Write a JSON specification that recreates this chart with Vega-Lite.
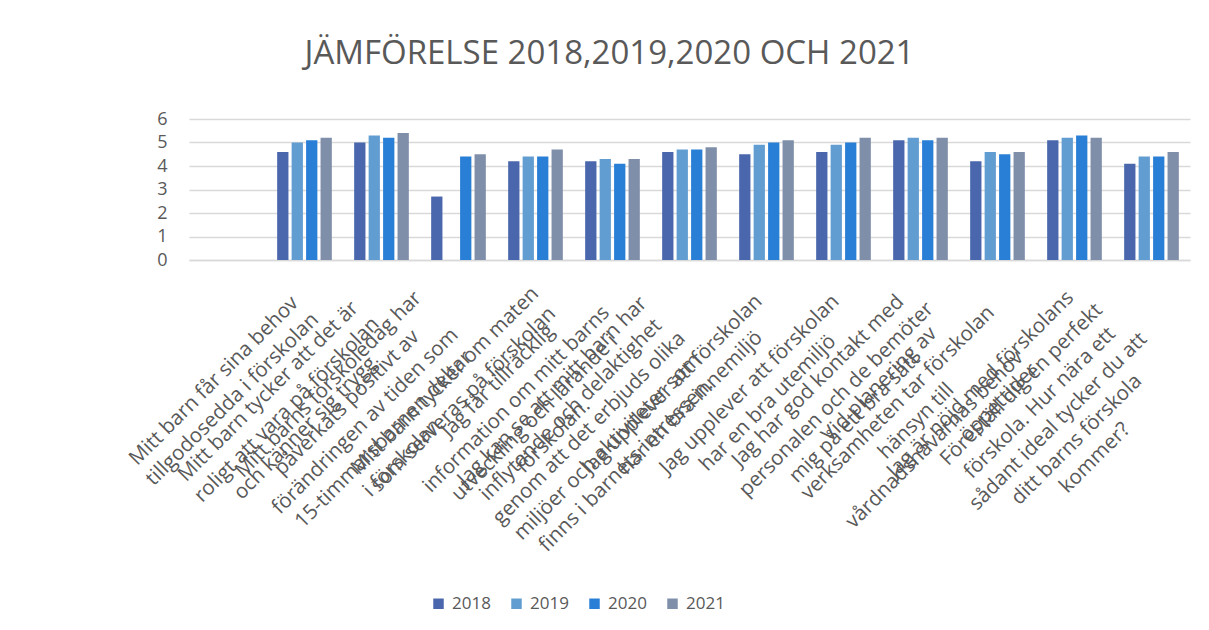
{
  "$schema": "https://vega.github.io/schema/vega-lite/v6.json",
  "width": 1001,
  "height": 141,
  "autosize": {"type": "none"},
  "padding": {"left": 189, "top": 119, "right": 19, "bottom": 370},
  "background": "white",
  "title": {
    "text": "JÄMFÖRELSE 2018,2019,2020 OCH 2021",
    "font": "Open Sans",
    "fontSize": 33,
    "fontWeight": "normal",
    "color": "#595959",
    "anchor": "middle",
    "dx": -80,
    "offset": 39
  },
  "datasets": {
    "rows": [
      {"q": "Mitt barn får sina behov|tillgodosedda i förskolan", "year": "2018", "value": 4.6},
      {"q": "Mitt barn får sina behov|tillgodosedda i förskolan", "year": "2019", "value": 5.0},
      {"q": "Mitt barn får sina behov|tillgodosedda i förskolan", "year": "2020", "value": 5.1},
      {"q": "Mitt barn får sina behov|tillgodosedda i förskolan", "year": "2021", "value": 5.2},
      {"q": "Mitt barn tycker att det är|roligt att vara på förskolan|och känner sig trygg", "year": "2018", "value": 5.0},
      {"q": "Mitt barn tycker att det är|roligt att vara på förskolan|och känner sig trygg", "year": "2019", "value": 5.3},
      {"q": "Mitt barn tycker att det är|roligt att vara på förskolan|och känner sig trygg", "year": "2020", "value": 5.2},
      {"q": "Mitt barn tycker att det är|roligt att vara på förskolan|och känner sig trygg", "year": "2021", "value": 5.4},
      {"q": "Mitt barns förskoledag har|påverkats positivt av|förändringen av tiden som|15-timmarsbarnen deltar|i förskolan", "year": "2018", "value": 2.7},
      {"q": "Mitt barns förskoledag har|påverkats positivt av|förändringen av tiden som|15-timmarsbarnen deltar|i förskolan", "year": "2020", "value": 4.4},
      {"q": "Mitt barns förskoledag har|påverkats positivt av|förändringen av tiden som|15-timmarsbarnen deltar|i förskolan", "year": "2021", "value": 4.5},
      {"q": "Mitt barn tycker om maten|som serveras på förskolan", "year": "2018", "value": 4.2},
      {"q": "Mitt barn tycker om maten|som serveras på förskolan", "year": "2019", "value": 4.4},
      {"q": "Mitt barn tycker om maten|som serveras på förskolan", "year": "2020", "value": 4.4},
      {"q": "Mitt barn tycker om maten|som serveras på förskolan", "year": "2021", "value": 4.7},
      {"q": "Jag får tillräcklig|information om mitt barns|utveckling och lärande i|förskolan.", "year": "2018", "value": 4.2},
      {"q": "Jag får tillräcklig|information om mitt barns|utveckling och lärande i|förskolan.", "year": "2019", "value": 4.3},
      {"q": "Jag får tillräcklig|information om mitt barns|utveckling och lärande i|förskolan.", "year": "2020", "value": 4.1},
      {"q": "Jag får tillräcklig|information om mitt barns|utveckling och lärande i|förskolan.", "year": "2021", "value": 4.3},
      {"q": "Jag kan se att mitt barn har|inflytande och delaktighet|genom att det erbjuds olika|miljöer och aktiviteter som|finns i barnets intressen.", "year": "2018", "value": 4.6},
      {"q": "Jag kan se att mitt barn har|inflytande och delaktighet|genom att det erbjuds olika|miljöer och aktiviteter som|finns i barnets intressen.", "year": "2019", "value": 4.7},
      {"q": "Jag kan se att mitt barn har|inflytande och delaktighet|genom att det erbjuds olika|miljöer och aktiviteter som|finns i barnets intressen.", "year": "2020", "value": 4.7},
      {"q": "Jag kan se att mitt barn har|inflytande och delaktighet|genom att det erbjuds olika|miljöer och aktiviteter som|finns i barnets intressen.", "year": "2021", "value": 4.8},
      {"q": "Jag upplever att förskolan|har en bra innemiljö", "year": "2018", "value": 4.5},
      {"q": "Jag upplever att förskolan|har en bra innemiljö", "year": "2019", "value": 4.9},
      {"q": "Jag upplever att förskolan|har en bra innemiljö", "year": "2020", "value": 5.0},
      {"q": "Jag upplever att förskolan|har en bra innemiljö", "year": "2021", "value": 5.1},
      {"q": "Jag upplever att förskolan|har en bra utemiljö", "year": "2018", "value": 4.6},
      {"q": "Jag upplever att förskolan|har en bra utemiljö", "year": "2019", "value": 4.9},
      {"q": "Jag upplever att förskolan|har en bra utemiljö", "year": "2020", "value": 5.0},
      {"q": "Jag upplever att förskolan|har en bra utemiljö", "year": "2021", "value": 5.2},
      {"q": "Jag har god kontakt med|personalen och de bemöter|mig på ett bra sätt", "year": "2018", "value": 5.1},
      {"q": "Jag har god kontakt med|personalen och de bemöter|mig på ett bra sätt", "year": "2019", "value": 5.2},
      {"q": "Jag har god kontakt med|personalen och de bemöter|mig på ett bra sätt", "year": "2020", "value": 5.1},
      {"q": "Jag har god kontakt med|personalen och de bemöter|mig på ett bra sätt", "year": "2021", "value": 5.2},
      {"q": "Vid planering av|verksamheten tar förskolan|hänsyn till|vårdnadshavarnas behov", "year": "2018", "value": 4.2},
      {"q": "Vid planering av|verksamheten tar förskolan|hänsyn till|vårdnadshavarnas behov", "year": "2019", "value": 4.6},
      {"q": "Vid planering av|verksamheten tar förskolan|hänsyn till|vårdnadshavarnas behov", "year": "2020", "value": 4.5},
      {"q": "Vid planering av|verksamheten tar förskolan|hänsyn till|vårdnadshavarnas behov", "year": "2021", "value": 4.6},
      {"q": "Jag är nöjd med förskolans|öppettider", "year": "2018", "value": 5.1},
      {"q": "Jag är nöjd med förskolans|öppettider", "year": "2019", "value": 5.2},
      {"q": "Jag är nöjd med förskolans|öppettider", "year": "2020", "value": 5.3},
      {"q": "Jag är nöjd med förskolans|öppettider", "year": "2021", "value": 5.2},
      {"q": "Föreställ dig en perfekt|förskola. Hur nära ett|sådant ideal tycker du att|ditt barns förskola|kommer?", "year": "2018", "value": 4.1},
      {"q": "Föreställ dig en perfekt|förskola. Hur nära ett|sådant ideal tycker du att|ditt barns förskola|kommer?", "year": "2019", "value": 4.4},
      {"q": "Föreställ dig en perfekt|förskola. Hur nära ett|sådant ideal tycker du att|ditt barns förskola|kommer?", "year": "2020", "value": 4.4},
      {"q": "Föreställ dig en perfekt|förskola. Hur nära ett|sådant ideal tycker du att|ditt barns förskola|kommer?", "year": "2021", "value": 4.6}
    ]
  },
  "data": {"name": "rows"},
  "mark": {"type": "bar"},
  "encoding": {
    "x": {
      "field": "q",
      "type": "nominal",
      "sort": null,
      "scale": {
        "domain": [
          " ",
          "Mitt barn får sina behov|tillgodosedda i förskolan",
          "Mitt barn tycker att det är|roligt att vara på förskolan|och känner sig trygg",
          "Mitt barns förskoledag har|påverkats positivt av|förändringen av tiden som|15-timmarsbarnen deltar|i förskolan",
          "Mitt barn tycker om maten|som serveras på förskolan",
          "Jag får tillräcklig|information om mitt barns|utveckling och lärande i|förskolan.",
          "Jag kan se att mitt barn har|inflytande och delaktighet|genom att det erbjuds olika|miljöer och aktiviteter som|finns i barnets intressen.",
          "Jag upplever att förskolan|har en bra innemiljö",
          "Jag upplever att förskolan|har en bra utemiljö",
          "Jag har god kontakt med|personalen och de bemöter|mig på ett bra sätt",
          "Vid planering av|verksamheten tar förskolan|hänsyn till|vårdnadshavarnas behov",
          "Jag är nöjd med förskolans|öppettider",
          "Föreställ dig en perfekt|förskola. Hur nära ett|sådant ideal tycker du att|ditt barns förskola|kommer?"
        ],
        "paddingInner": 0.29,
        "paddingOuter": 0.145
      },
      "axis": {
        "title": null,
        "labelExpr": "split(datum.label, '|')",
        "labelAngle": -45,
        "labelAlign": "center",
        "labelBaseline": "top",
        "labelFont": "Open Sans",
        "labelFontSize": 20.5,
        "labelLineHeight": 26,
        "labelColor": "#595959",
        "labelPadding": {
          "condition": {"test": "datum.value === ' '", "value": 27},
          "expr": "26 + 3.5*max(length(split(datum.value,'|')[0]), length(split(datum.value,'|')[1]||''), length(split(datum.value,'|')[2]||''), length(split(datum.value,'|')[3]||''), length(split(datum.value,'|')[4]||''))"
        },
        "labelOffset": {
          "condition": {"test": "datum.value === ' '", "value": 0},
          "expr": "-10 - 12*(length(split(datum.value,'|'))-2) - 3.5*max(length(split(datum.value,'|')[0]), length(split(datum.value,'|')[1]||''), length(split(datum.value,'|')[2]||''), length(split(datum.value,'|')[3]||''), length(split(datum.value,'|')[4]||''))"
        },
        "labelOverlap": false,
        "labelLimit": 0,
        "ticks": false,
        "domainColor": "#d9d9d9",
        "domainWidth": 1.5,
        "grid": false
      }
    },
    "xOffset": {
      "field": "year",
      "type": "nominal",
      "scale": {"domain": ["2018", "2019", "2020", "2021"], "paddingInner": 0.22}
    },
    "y": {
      "field": "value",
      "type": "quantitative",
      "scale": {"domain": [0, 6], "nice": false},
      "axis": {
        "title": null,
        "values": [0, 1, 2, 3, 4, 5, 6],
        "domain": false,
        "ticks": false,
        "gridColor": "#d9d9d9",
        "gridWidth": 1.5,
        "labelFont": "Open Sans",
        "labelFontSize": 18,
        "labelColor": "#595959",
        "labelPadding": 22
      }
    },
    "color": {
      "field": "year",
      "type": "nominal",
      "scale": {
        "domain": ["2018", "2019", "2020", "2021"],
        "range": ["#4a66ac", "#629dd1", "#297fd5", "#7f8fa9"]
      },
      "legend": {
        "title": null,
        "orient": "none",
        "direction": "horizontal",
        "legendX": 241,
        "legendY": 476,
        "symbolType": "square",
        "symbolSize": 110,
        "symbolStrokeWidth": 0,
        "labelFont": "Open Sans",
        "labelFontSize": 17,
        "labelColor": "#595959",
        "labelOffset": 5,
        "columnPadding": 17
      }
    }
  },
  "config": {"view": {"stroke": null}}
}
